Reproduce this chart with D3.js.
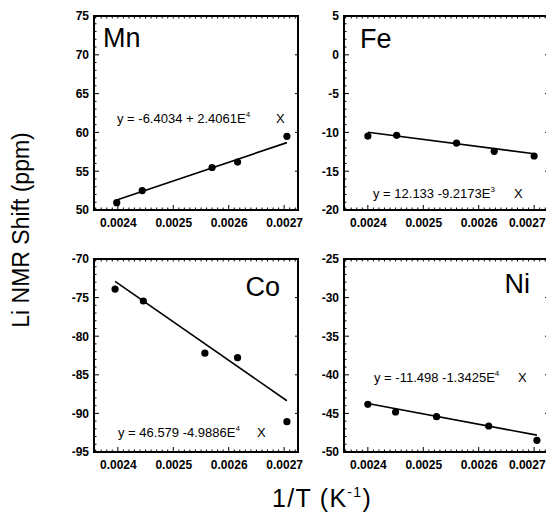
<!DOCTYPE html>
<html>
<head>
<meta charset="utf-8">
<script src="https://cdn.jsdelivr.net/npm/d3@7/dist/d3.min.js"></script>
<style>
  html, body { margin: 0; padding: 0; background: #fff; }
  svg { display: block; font-family: "Liberation Sans", Arial, sans-serif; }
</style>
</head>
<body>
<svg id="chart" width="546" height="522"></svg>
<script>
// Inverse temperature (1/T, K^-1) and Li NMR shift (ppm) for each transition metal
const metals = ["Mn", "Fe", "Co", "Ni"];
const xMn = [0.002398, 0.002444, 0.002570, 0.002616, 0.002705];
const yMn = [50.95, 52.5, 55.48, 56.18, 59.5];
const xFe = [0.002400, 0.002452, 0.002560, 0.002628, 0.002700];
const yFe = [-10.47, -10.38, -11.37, -12.44, -13.04];
const xCo = [0.002395, 0.002446, 0.002557, 0.002616, 0.002705];
const yCo = [-73.9, -75.44, -82.2, -82.78, -91.07];
const xNi = [0.002400, 0.002450, 0.002524, 0.002618, 0.002705];
const yNi = [-43.82, -44.82, -45.43, -46.63, -48.49];

// Linear fit coefficients: y = intercept + slope * X
const intercepts = [-6.4034, 12.133, 46.579, -11.498];
const slopes = [2.4061e4, -9.2173e3, -4.9886e4, -1.3425e4];
const fitText = [
  ["y = -6.4034 + 2.4061E", "4"],
  ["y = 12.133 -9.2173E", "3"],
  ["y = 46.579 -4.9886E", "4"],
  ["y = -11.498 -1.3425E", "4"]
];

// Axis ranges and tick labels
const xDomain = [0.002357, 0.002725];
const xTicks = [0.0024, 0.0025, 0.0026, 0.0027];
const yDomains = [[50, 75], [-20, 5], [-95, -70], [-50, -25]];
const yTicks = [
  [50, 55, 60, 65, 70, 75],
  [-20, -15, -10, -5, 0, 5],
  [-95, -90, -85, -80, -75, -70],
  [-50, -45, -40, -35, -30, -25]
];

const xs = [xMn, xFe, xCo, xNi];
const ys = [yMn, yFe, yCo, yNi];

// panel frames
const panels = [
  { x: 94, y: 16, w: 204, h: 194 },
  { x: 344, y: 16, w: 204, h: 194 },
  { x: 94, y: 259, w: 204, h: 193 },
  { x: 344, y: 259, w: 204, h: 193 }
];
// label and equation placement inside each panel
const nameLayout = [
  { x: 9, y: 31, anchor: "start" },
  { x: 16, y: 32, anchor: "start" },
  { x: 186, y: 37, anchor: "end" },
  { x: 186, y: 34, anchor: "end" }
];
const eqLayout = [
  { x: 23, y: 107, xPos: 159 },
  { x: 29, y: 182, xPos: 141 },
  { x: 24, y: 178, xPos: 139 },
  { x: 30, y: 123, xPos: 144 }
];

const tickFont = t => t
  .attr("font-size", 12).attr("font-weight", "bold").attr("fill", "#000")
  .attr("font-family", "Liberation Sans, Arial, sans-serif");

const svg = d3.select("#chart");

panels.forEach((p, i) => {
  const g = svg.append("g").attr("transform", `translate(${p.x},${p.y})`);
  const x = d3.scaleLinear().domain(xDomain).range([0, p.w]);
  const y = d3.scaleLinear().domain(yDomains[i]).range([p.h, 0]);

  // minor ticks on all four sides
  const xMinor = d3.range(0.00236, 0.002725, 0.00001);
  const yMinor = d3.range(yDomains[i][0], yDomains[i][1] + 0.001, 1);
  const tk = g.append("g").attr("stroke", "#000").attr("stroke-width", 1);
  xMinor.forEach(v => {
    const major = Math.abs(v * 10000 - Math.round(v * 10000)) < 1e-6;
    const len = major ? 5 : 2.5;
    tk.append("line").attr("x1", x(v)).attr("x2", x(v)).attr("y1", p.h).attr("y2", p.h - len);
    tk.append("line").attr("x1", x(v)).attr("x2", x(v)).attr("y1", 0).attr("y2", 2.5);
  });
  yMinor.forEach(v => {
    const major = Math.abs(v % 5) < 1e-6;
    const len = major ? 5 : 2.5;
    tk.append("line").attr("x1", 0).attr("x2", len).attr("y1", y(v)).attr("y2", y(v));
    if (major) tk.append("line").attr("x1", p.w).attr("x2", p.w - 3).attr("y1", y(v)).attr("y2", y(v));
  });

  // axes with labels
  const xa = g.append("g")
    .attr("transform", `translate(0,${p.h})`)
    .call(d3.axisBottom(x).tickValues(xTicks).tickFormat(d3.format(".4f")).tickSize(0).tickPadding(8))
    .call(a => a.select(".domain").remove());
  xa.selectAll("text").call(tickFont);
  if (i % 2 === 1) {
    // keep the last label inside the page edge
    xa.selectAll("text").filter(d => d === 0.0027).attr("text-anchor", "end").attr("x", 11);
  }
  g.append("g")
    .call(d3.axisLeft(y).tickValues(yTicks[i]).tickFormat(d => String(d)).tickSize(0).tickPadding(5))
    .call(a => a.select(".domain").remove())
    .selectAll("text").call(tickFont);

  // frame
  g.append("rect").attr("width", p.w).attr("height", p.h)
    .attr("fill", "none").attr("stroke", "#000").attr("stroke-width", 2);

  // fitted line over the data range
  const x0 = d3.min(xs[i]), x1 = d3.max(xs[i]);
  g.append("line")
    .attr("x1", x(x0)).attr("y1", y(intercepts[i] + slopes[i] * x0))
    .attr("x2", x(x1)).attr("y2", y(intercepts[i] + slopes[i] * x1))
    .attr("stroke", "#000").attr("stroke-width", 1.6);

  // data points
  g.selectAll("circle.pt").data(xs[i].map((v, k) => [v, ys[i][k]]))
    .join("circle").attr("class", "pt")
    .attr("cx", d => x(d[0])).attr("cy", d => y(d[1])).attr("r", 3.6).attr("fill", "#000");

  // metal name
  g.append("text").attr("x", nameLayout[i].x).attr("y", nameLayout[i].y)
    .attr("text-anchor", nameLayout[i].anchor).attr("font-size", 27).text(metals[i]);

  // fit equation
  const eq = g.append("text").attr("x", eqLayout[i].x).attr("y", eqLayout[i].y)
    .attr("font-size", 13);
  eq.append("tspan").text(fitText[i][0]);
  eq.append("tspan").attr("font-size", 8).attr("dy", -6).text(fitText[i][1]);
  g.append("text").attr("x", eqLayout[i].x + eqLayout[i].xPos).attr("y", eqLayout[i].y)
    .attr("font-size", 13).text("X");
});

// shared axis titles
svg.append("text")
  .attr("transform", "translate(29,230) rotate(-90)")
  .attr("text-anchor", "middle").attr("font-size", 23)
  .text("Li NMR Shift (ppm)");

const xt = svg.append("text").attr("x", 322).attr("y", 507)
  .attr("text-anchor", "middle").attr("font-size", 25).attr("letter-spacing", 1.3);
xt.append("tspan").text("1/T (K");
xt.append("tspan").attr("font-size", 14).attr("dy", -10).text("-1");
xt.append("tspan").attr("dy", 10).text(")");
</script>
</body>
</html>
